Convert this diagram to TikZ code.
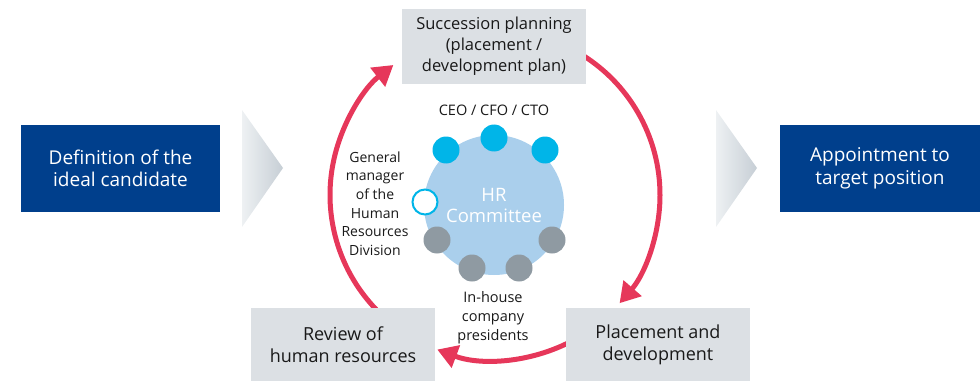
\documentclass[tikz,border=0pt]{standalone}
\usepackage{fontspec}
\setmainfont{Open Sans}
\usetikzlibrary{arrows.meta,calc}
\definecolor{navy}{RGB}{0,63,140}
\definecolor{boxgrey}{RGB}{220,224,228}
\definecolor{cyc}{RGB}{230,55,90}
\definecolor{hrblue}{RGB}{170,207,236}
\definecolor{dotcyan}{RGB}{0,181,232}
\definecolor{dotgrey}{RGB}{143,154,162}
\definecolor{chevL}{RGB}{238,241,243}
\definecolor{chevR}{RGB}{198,206,213}
\definecolor{txt}{RGB}{25,25,25}
\tikzset{
  bluebox/.style={fill=navy, text=white, minimum width=199pt, minimum height=87pt, inner sep=0pt, align=center, font=\fontsize{19}{22.5}\selectfont},
  greybox/.style={fill=boxgrey, text=txt, minimum width=184pt, inner sep=0pt, align=center, font=\fontsize{18}{22}\selectfont},
  cyclearrow/.style={draw=cyc, line width=5pt, -{Triangle[length=20pt,width=23pt]}},
  dotc/.style={circle, fill=dotcyan, minimum size=27pt, inner sep=0pt},
  dotg/.style={circle, fill=dotgrey, minimum size=27pt, inner sep=0pt},
  dotw/.style={circle, fill=white, draw=dotcyan, line width=2pt, minimum size=25pt, inner sep=0pt},
  lbl/.style={text=txt, align=center, inner sep=0pt, font=\fontsize{14}{18.6}\selectfont},
}
\begin{document}
\begin{tikzpicture}[x=1pt,y=1pt]
\useasboundingbox (0,0) rectangle (980,381);
% cycle arrows
\coordinate (cc) at (495,186);
\draw[cyclearrow] ($(cc)+(226:165)$) arc[start angle=226, end angle=128, radius=165];
\draw[cyclearrow] ($(cc)+(58:165)$) arc[start angle=58, end angle=-41, radius=165];
\draw[cyclearrow] ($(cc)+(-63:165)$) arc[start angle=-63, end angle=-110.5, radius=165];
% boxes
\node[bluebox] (def) at (120.5,212.5) {Definition of the\\ideal candidate};
\node[bluebox, minimum width=200pt] (app) at (880,212.5) {Appointment to\\target position};
\node[greybox, minimum height=75pt, font=\fontsize{16.5}{21}\selectfont] (succ) at (494,334.5) {Succession planning\\(placement /\\development plan)};
\node[greybox, minimum height=73pt] (rev) at (343,36.5) {Review of\\human resources};
\node[greybox, minimum height=73pt] (plc) at (658,36.5) {Placement and\\development};
% chevrons
\shade[left color=chevL, right color=chevR] (242,271) -- (283,213) -- (242,154) -- cycle;
\shade[left color=chevL, right color=chevR] (716,271) -- (757,213) -- (716,154) -- cycle;
% HR committee
\node[circle, fill=hrblue, minimum size=140pt, inner sep=0pt, text=white, align=center, font=\fontsize{18.5}{21}\selectfont] (hr) at (494,176) {HR\\Committee};
\node[dotc] (d1) at (494,243) {};
\node[dotc] (d2) at (446,231) {};
\node[dotc] (d3) at (545,231) {};
\node[dotw] (d4) at (425,179) {};
\node[dotg] (d5) at (437,141) {};
\node[dotg] (d6) at (552,141) {};
\node[dotg] (d7) at (472,113) {};
\node[dotg] (d8) at (519,113) {};
% labels
\node[lbl, font=\fontsize{14.5}{18.6}\selectfont] (ceo) at (494,271) {CEO / CFO / CTO};
\node[lbl] (gm) at (375,177.5) {General\\manager\\of the\\Human\\Resources\\Division};
\node[lbl, font=\fontsize{14.5}{19}\selectfont] (ih) at (493,63.5) {In-house\\company\\presidents};
\end{tikzpicture}
\end{document}
